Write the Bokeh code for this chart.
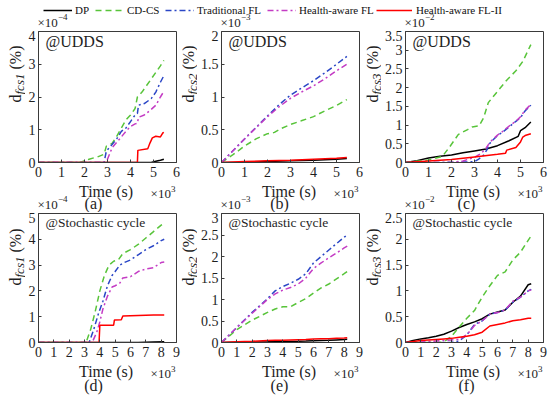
from bokeh.plotting import figure
from bokeh.models import Range1d, FixedTicker, CustomJSTickFormatter, Label, Legend, LegendItem
from bokeh.layouts import column, row
from bokeh.embed import file_html
from bokeh.resources import INLINE

# ---------------- series definitions ----------------
names = ["DP", "CD-CS", "Traditional FL", "Health-aware FL", "Health-aware FL-II"]
colors = ["#000000", "#58c43a", "#2a46c6", "#c43cc4", "#ff0000"]
dashes = ["solid", "6 4", "6 3 2 3", "6 3 2 3", "solid"]

# ---------------- (a) UDDS, d_fcs1 (x10^-4 %), time (x10^3 s) ----------------
a_dp_t = [0, 4.9, 5.1, 5.3, 5.45]
a_dp = [0, 0, 0.04, 0.07, 0.1]
a_cdcs_t = [0, 1.8, 2.2, 2.6, 2.85, 2.95, 3.2, 3.4, 3.6, 3.8, 4.0, 4.2, 4.3, 4.5, 4.7, 4.9, 5.1, 5.3, 5.45]
a_cdcs = [0, 0, 0.1, 0.18, 0.25, 0.5, 0.58, 0.8, 1.05, 1.3, 1.45, 1.65, 2.0, 2.15, 2.35, 2.55, 2.75, 2.95, 3.12]
a_tfl_t = [0, 2.85, 2.95, 3.2, 3.4, 3.6, 3.8, 4.0, 4.2, 4.3, 4.35, 4.6, 4.9, 5.1, 5.3, 5.45]
a_tfl = [0, 0, 0.35, 0.55, 0.72, 0.95, 1.05, 1.25, 1.45, 1.5, 1.75, 1.8, 1.95, 2.15, 2.45, 2.65]
a_hfl_t = [0, 2.9, 3.0, 3.2, 3.4, 3.6, 3.8, 4.0, 4.2, 4.3, 4.35, 4.6, 4.9, 5.1, 5.3, 5.45]
a_hfl = [0, 0, 0.1, 0.45, 0.62, 0.78, 0.95, 1.1, 1.18, 1.2, 1.38, 1.45, 1.62, 1.75, 2.0, 2.17]
a_fl2_t = [0, 4.3, 4.32, 4.75, 4.85, 4.95, 5.1, 5.3, 5.4, 5.45]
a_fl2 = [0, 0, 0.37, 0.42, 0.6, 0.75, 0.8, 0.78, 0.9, 0.92]

# ---------------- (b) UDDS, d_fcs2 (x10^-3 %) ----------------
b_dp_t = [0, 1, 2, 3, 4, 5, 5.45]
b_dp = [0, 0.005, 0.015, 0.025, 0.035, 0.05, 0.06]
b_cdcs_t = [0, 0.5, 1, 1.5, 2, 2.3, 2.6, 3, 3.5, 4, 4.5, 5, 5.45]
b_cdcs = [0, 0.12, 0.25, 0.36, 0.44, 0.46, 0.52, 0.58, 0.64, 0.70, 0.79, 0.87, 0.96]
b_fl_t = [0, 1, 2, 2.5, 3, 3.5, 4, 4.5, 5, 5.45]
b_tfl = [0, 0.36, 0.71, 0.88, 1.03, 1.14, 1.25, 1.37, 1.5, 1.62]
b_hfl = [0, 0.36, 0.70, 0.85, 0.98, 1.08, 1.17, 1.28, 1.4, 1.5]
b_fl2_t = [0, 1, 2, 3, 4, 5, 5.45]
b_fl2 = [0, 0.015, 0.025, 0.035, 0.05, 0.065, 0.075]

# ---------------- (c) UDDS, d_fcs3 (x10^-2 %) ----------------
c_dp_t = [0, 0.5, 1, 1.5, 2, 2.5, 3, 3.5, 4, 4.5, 4.9, 5.0, 5.2, 5.45]
c_dp = [0, 0.05, 0.12, 0.17, 0.2, 0.26, 0.31, 0.36, 0.45, 0.58, 0.7, 0.85, 0.93, 1.08]
c_cdcs_t = [0, 1.0, 1.6, 1.9, 2.3, 2.7, 2.9, 3.2, 3.4, 3.6, 4.0, 4.4, 4.8, 5.1, 5.45]
c_cdcs = [0, 0.07, 0.16, 0.4, 0.75, 0.88, 0.95, 0.98, 1.2, 1.6, 1.9, 2.2, 2.45, 2.7, 3.15]
c_tfl_t = [0, 1.5, 3.0, 3.2, 3.4, 3.55, 3.65, 3.8, 4.0, 4.2, 4.4, 4.6, 4.8, 5.0, 5.2, 5.45]
c_tfl = [0, 0, 0.02, 0.1, 0.2, 0.35, 0.5, 0.6, 0.72, 0.8, 0.9, 1.0, 1.1, 1.2, 1.38, 1.53]
c_hfl_t = [0, 2.0, 2.5, 3.0, 3.3, 3.5, 3.65, 3.8, 4.0, 4.2, 4.4, 4.6, 4.8, 5.0, 5.2, 5.45]
c_hfl = [0, 0, 0.04, 0.14, 0.25, 0.38, 0.52, 0.62, 0.73, 0.82, 0.92, 1.02, 1.1, 1.22, 1.4, 1.55]
c_fl2_t = [0, 1, 2, 3, 4, 4.35, 4.4, 4.8, 5.0, 5.1, 5.2, 5.45]
c_fl2 = [0, 0.04, 0.08, 0.15, 0.22, 0.25, 0.33, 0.4, 0.55, 0.68, 0.72, 0.77]

# ---------------- (d) Stochastic cycle, d_fcs1 (x10^-4 %) ----------------
d_dp_t = [0, 6.5, 7.5, 8.2]
d_dp = [0, 0, 0.02, 0.03]
d_cdcs_t = [0, 3.1, 3.4, 3.7, 4.0, 4.3, 4.6, 4.9, 5.2, 5.5, 6.0, 6.5, 7.0, 7.5, 8.0, 8.2]
d_cdcs = [0, 0, 0.5, 1.2, 2.0, 2.6, 3.0, 3.15, 3.2, 3.45, 3.6, 3.8, 4.05, 4.3, 4.55, 4.6]
d_tfl_t = [0, 3.3, 3.6, 3.9, 4.2, 4.5, 4.8, 5.0, 5.3, 5.6, 6.0, 6.5, 7.0, 7.5, 8.0, 8.2]
d_tfl = [0, 0, 0.5, 1.1, 1.6, 2.2, 2.6, 2.75, 3.0, 3.1, 3.2, 3.4, 3.6, 3.75, 3.95, 4.0]
d_hfl_t = [0, 3.5, 3.8, 4.0, 4.2, 4.5, 4.8, 5.0, 5.3, 5.5, 6.0, 6.5, 7.0, 7.5, 8.0, 8.2]
d_hfl = [0, 0, 0.4, 0.8, 1.3, 1.8, 2.15, 2.2, 2.3, 2.5, 2.55, 2.75, 2.85, 2.9, 3.1, 3.12]
d_fl2_t = [0, 3.95, 4.0, 4.9, 4.95, 5.4, 5.5, 6.5, 7.5, 8.2]
d_fl2 = [0, 0, 0.67, 0.67, 0.87, 0.88, 1.03, 1.05, 1.07, 1.07]

# ---------------- (e) Stochastic cycle, d_fcs2 (x10^-3 %) ----------------
e_t = [0, 1, 2, 3, 3.5, 4, 4.5, 5, 5.5, 6, 6.5, 7, 7.5, 8, 8.2]
e_dp = [0, 0.005, 0.01, 0.015, 0.018, 0.02, 0.025, 0.028, 0.032, 0.04, 0.045, 0.05, 0.06, 0.07, 0.075]
e_cdcs = [0, 0.3, 0.52, 0.7, 0.78, 0.83, 0.83, 0.93, 1.02, 1.15, 1.27, 1.36, 1.48, 1.6, 1.65]
e_tfl = [0, 0.35, 0.7, 1.02, 1.2, 1.3, 1.38, 1.47, 1.6, 1.85, 2.0, 2.15, 2.3, 2.45, 2.5]
e_hfl = [0, 0.35, 0.68, 1.0, 1.13, 1.22, 1.28, 1.36, 1.5, 1.72, 1.85, 1.97, 2.08, 2.2, 2.24]
e_fl2 = [0, 0.02, 0.03, 0.045, 0.05, 0.055, 0.06, 0.065, 0.07, 0.08, 0.085, 0.09, 0.1, 0.105, 0.11]

# ---------------- (f) Stochastic cycle, d_fcs3 (x10^-2 %) ----------------
f_t = [0, 0.5, 1, 1.5, 2, 2.5, 3, 3.5, 4, 4.5, 5, 5.5, 6, 6.5, 7, 7.5, 8, 8.2]
f_dp = [0, 0.04, 0.07, 0.09, 0.12, 0.16, 0.22, 0.29, 0.35, 0.4, 0.46, 0.55, 0.59, 0.63, 0.78, 0.9, 1.12, 1.14]
f_cdcs = [0, 0, 0, 0, 0, 0.01, 0.12, 0.3, 0.47, 0.62, 0.88, 1.1, 1.3, 1.37, 1.6, 1.75, 1.98, 2.07]
f_tfl = [0, 0, 0, 0, 0, 0, 0, 0.03, 0.15, 0.35, 0.42, 0.55, 0.58, 0.63, 0.78, 0.88, 1.0, 1.03]
f_hfl = [0, 0, 0.01, 0.02, 0.03, 0.04, 0.05, 0.06, 0.15, 0.33, 0.42, 0.55, 0.58, 0.63, 0.8, 0.88, 1.0, 1.02]
f_fl2 = [0, 0.02, 0.04, 0.05, 0.06, 0.07, 0.08, 0.1, 0.12, 0.15, 0.2, 0.32, 0.35, 0.38, 0.42, 0.44, 0.47, 0.47]

x_ticks_udds = [0, 1, 2, 3, 4, 5, 6]
x_ticks_stoch = [0, 1, 2, 3, 4, 5, 6, 7, 8, 9]
y_ticks_a = [0, 1, 2, 3, 4]
y_ticks_b = [0, 0.5, 1, 1.5, 2]
y_ticks_c = [0, 0.5, 1, 1.5, 2, 2.5, 3, 3.5]
y_ticks_d = [0, 1, 2, 3, 4, 5]
y_ticks_e = [0, 0.5, 1, 1.5, 2, 2.5, 3]
y_ticks_f = [0, 0.5, 1, 1.5, 2, 2.5]

cycles = ["@UDDS", "@Stochastic cycle"]
subs = ["fcs1", "fcs2", "fcs3"]
captions = ["(a)", "(b)", "(c)", "(d)", "(e)", "(f)"]
y_exps = ["\u22124", "\u22123", "\u22122"]
x_exp = "3"
x_title = "Time (s)"

FONT = "Liberation Serif"
AX = "#3a3a3a"
TXT = "#1e1e1e"
MID = 0.34          # em-box middle above the baseline (Liberation Serif)

# column geometry (pixels): [ylabel strip, panel] x 3
YL_W = [25, 16, 15]
P_W = [156, 169, 169]
P_BL = [11, 22, 22]
P_BR = [5, 7, 7]
FRAME_L = [36, 219, 403]      # frame left edges on the page
FRAME_W = 140
# row geometry
T0_H, P1_H, T1_H, P2_H, T2_H = 30, 153, 29, 151, 35


def nofig(w, h):
    return figure(width=w, height=h, x_range=Range1d(0, 1), y_range=Range1d(0, 1),
                  x_axis_type=None, y_axis_type=None, toolbar_location=None,
                  output_backend="svg", min_border=0, min_border_left=0, min_border_right=0,
                  min_border_top=0, min_border_bottom=0, outline_line_color=None,
                  background_fill_color="white", border_fill_color="white")


def txt(p, H, x, y_base, text, size, align="left", angle=0, style="normal"):
    """Place text so that its baseline sits at y_base (measured down from the frame top)
    or, for vertical text, at x (measured from the frame left)."""
    if angle == 0:
        xs, ys = x, H - (y_base - MID * size)
    else:
        xs, ys = x - MID * size, H - y_base
    p.add_layout(Label(x=xs, y=ys, x_units="screen", y_units="screen", text=text,
                       text_font=FONT, text_font_size=f"{size}px", text_font_style=style,
                       text_align=align, text_baseline="middle", angle=angle,
                       angle_units="deg", text_color=TXT))


def exp_left(p, H, x, y, e):
    txt(p, H, x, y, "\u00d710", 13)
    txt(p, H, x + 20.5, y - 6, e, 9)


def exp_right(p, H, x, y, e):
    txt(p, H, x, y - 5, e, 9, align="right")
    txt(p, H, x - 4.6, y, "\u00d710", 13, align="right")


def ylabel_fig(w, h, base_x, bottom_y, sub):
    s = nofig(w, h)
    txt(s, h, base_x, bottom_y, "d", 16, angle=90)
    txt(s, h, base_x + 3, bottom_y - 8, sub, 13, angle=90, style="italic")
    txt(s, h, base_x, bottom_y - 33, "(%)", 16, angle=90)
    return s


def style_axis(ax):
    ax.major_tick_in = 3
    ax.major_tick_out = 0
    ax.minor_tick_line_color = None
    ax.axis_line_color = AX
    ax.major_tick_line_color = AX
    ax.major_label_text_font = FONT
    ax.major_label_text_font_size = "14px"
    ax.major_label_text_color = TXT
    ax.formatter = CustomJSTickFormatter(code="return String(Number(tick.toFixed(3)));")


def panel(i, height, bt, bb, xmax, xticks, ymax, yticks, data, cycle, cycle_size, cyc_base):
    p = figure(width=P_W[i], height=height, min_border_left=P_BL[i], min_border_right=P_BR[i],
               min_border_top=bt, min_border_bottom=bb,
               x_range=Range1d(0, xmax), y_range=Range1d(0, ymax),
               toolbar_location=None, output_backend="svg",
               outline_line_color=AX, outline_line_width=1,
               background_fill_color="white", border_fill_color="white")
    p.grid.visible = False
    for (t, v), c, d in zip(data, colors, dashes):
        p.line(t, v, line_color=c, line_dash=d, line_width=1.5)
    style_axis(p.xaxis[0])
    style_axis(p.yaxis[0])
    p.xaxis.ticker = FixedTicker(ticks=xticks)
    p.yaxis.ticker = FixedTicker(ticks=yticks)
    p.xaxis.major_label_standoff = 4
    p.yaxis.major_label_standoff = 3
    H = height - bt - bb
    txt(p, H, 7, cyc_base, cycle, cycle_size)
    return p


# ---------------- top strip: legend + top-row y exponents ----------------
t0 = nofig(550, T0_H)
leg_x = [43, 95, 165, 267, 376]
leg_gw = [29, 29, 29, 29, 36]
for n, c, d, lx, gw in zip(names, colors, dashes, leg_x, leg_gw):
    r = t0.line(x=[-30, -20], y=[-30, -30], line_color=c, line_dash=d, line_width=1.5)
    lg = Legend(items=[LegendItem(label=n, renderers=[r])], location=(lx, 10),
                orientation="horizontal", glyph_width=gw, glyph_height=20, label_height=20,
                label_standoff=3 if gw == 29 else 4, padding=0, margin=0,
                border_line_color=None, background_fill_alpha=0,
                label_text_font=FONT, label_text_font_size="11px",
                label_text_color="#111111")
    t0.add_layout(lg, "center")
for fl, e in zip(FRAME_L, y_exps):
    exp_left(t0, T0_H, fl + 1, 26, e)

# ---------------- strip under the top row ----------------
t1 = nofig(550, T1_H)
cap_x = [93, 279, 466]
for k, fl in enumerate(FRAME_L):
    txt(t1, T1_H, fl + FRAME_W / 2 - 0.5, 13, x_title, 16, align="center")
    exp_right(t1, T1_H, fl + FRAME_W - 1, 14, x_exp)
    txt(t1, T1_H, cap_x[k], 25, captions[k], 16, align="center")
    exp_left(t1, T1_H, fl + 1, 25, y_exps[k])

# ---------------- strip under the bottom row ----------------
t2 = nofig(550, T2_H)
for k, fl in enumerate(FRAME_L):
    txt(t2, T2_H, fl + FRAME_W / 2 - 0.5, 13, x_title, 16, align="center")
    exp_right(t2, T2_H, fl + FRAME_W - 1, 14, x_exp)
    txt(t2, T2_H, cap_x[k], 27, captions[3 + k], 16, align="center")

# ---------------- panels ----------------
fa = panel(0, P1_H, 1, 21, 6, x_ticks_udds, 4, y_ticks_a,
           [(a_dp_t, a_dp), (a_cdcs_t, a_cdcs), (a_tfl_t, a_tfl), (a_hfl_t, a_hfl), (a_fl2_t, a_fl2)],
           cycles[0], 16, 15.5)
fb = panel(1, P1_H, 1, 21, 6, x_ticks_udds, 2, y_ticks_b,
           [(b_dp_t, b_dp), (b_cdcs_t, b_cdcs), (b_fl_t, b_tfl), (b_fl_t, b_hfl), (b_fl2_t, b_fl2)],
           cycles[0], 16, 15.5)
fc = panel(2, P1_H, 1, 21, 6, x_ticks_udds, 3.5, y_ticks_c,
           [(c_dp_t, c_dp), (c_cdcs_t, c_cdcs), (c_tfl_t, c_tfl), (c_hfl_t, c_hfl), (c_fl2_t, c_fl2)],
           cycles[0], 16, 15.5)
fd = panel(0, P2_H, 1, 21, 9, x_ticks_stoch, 5, y_ticks_d,
           [(d_dp_t, d_dp), (d_cdcs_t, d_cdcs), (d_tfl_t, d_tfl), (d_hfl_t, d_hfl), (d_fl2_t, d_fl2)],
           cycles[1], 13.5, 14)
fe = panel(1, P2_H, 1, 21, 9, x_ticks_stoch, 3, y_ticks_e,
           [(e_t, e_dp), (e_t, e_cdcs), (e_t, e_tfl), (e_t, e_hfl), (e_t, e_fl2)],
           cycles[1], 13.5, 14)
ff = panel(2, P2_H, 1, 21, 9, x_ticks_stoch, 2.5, y_ticks_f,
           [(f_t, f_dp), (f_t, f_cdcs), (f_t, f_tfl), (f_t, f_hfl), (f_t, f_fl2)],
           cycles[1], 13.5, 14)

# ---------------- y-label strips ----------------
yl_base = [20, 12, 11]
yl1 = [ylabel_fig(YL_W[k], P1_H, yl_base[k], 93, subs[k]) for k in range(3)]
yl2 = [ylabel_fig(YL_W[k], P2_H, yl_base[k], 94, subs[k]) for k in range(3)]

row1 = row(yl1[0], fa, yl1[1], fb, yl1[2], fc)
row2 = row(yl2[0], fd, yl2[1], fe, yl2[2], ff)
layout = column(t0, row1, t1, row2, t2)
open("out.html", "w").write(file_html(layout, INLINE))
